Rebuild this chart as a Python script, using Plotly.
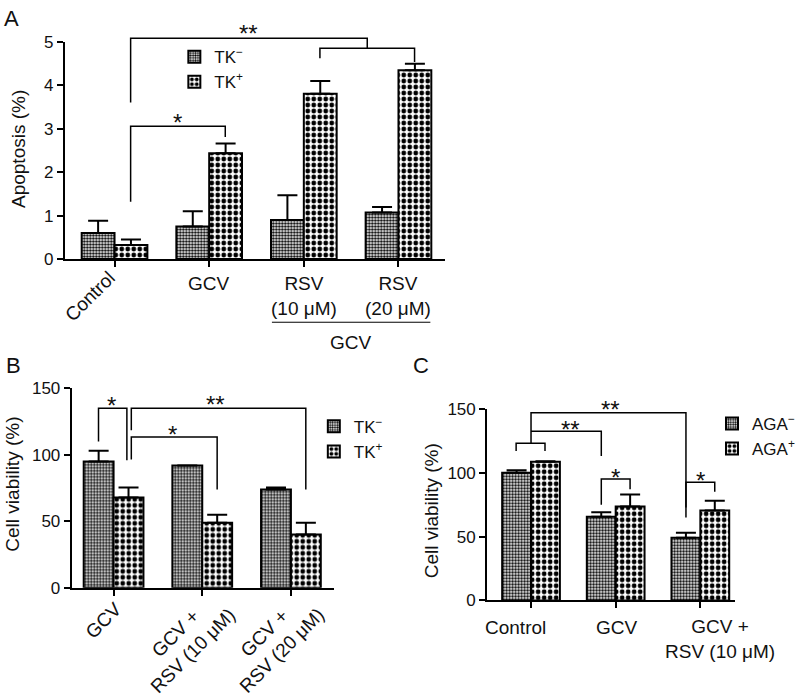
import plotly.graph_objects as go

W, H = 800, 698
FONT = "Liberation Sans, Arial, sans-serif"
TXT = "#111111"

# ---------------- data ----------------
# Panel A : apoptosis (%)
a_groups = ["Control", "GCV", "RSV<br>(10 μM)", "RSV<br>(20 μM)"]
a_neg = [0.60, 0.75, 0.90, 1.07]
a_neg_err = [0.28, 0.35, 0.57, 0.13]
a_pos = [0.32, 2.44, 3.81, 4.35]
a_pos_err = [0.13, 0.22, 0.29, 0.15]
a_yticks = [0, 1, 2, 3, 4, 5]

# Panel B : cell viability (%)
b_groups = ["GCV", "GCV +<br>RSV (10 μM)", "GCV +<br>RSV (20 μM)"]
b_neg = [95, 92, 74]
b_neg_err = [8, 0, 1.5]
b_pos = [68, 49, 40]
b_pos_err = [7.5, 6, 9]

# Panel C : cell viability (%)
c_groups = ["Control", "GCV", "GCV +<br>RSV (10 μM)"]
c_neg = [100, 65.5, 49]
c_neg_err = [2, 3.5, 4]
c_pos = [108.5, 73.5, 70.5]
c_pos_err = [0.5, 9.5, 7.5]
bc_yticks = [0, 50, 100, 150]

# ---------------- helpers ----------------
def px_x(px):
    return px / W

def px_y(py):
    return 1 - py / H

FINE = dict(shape=".", size=3, solidity=0.5, fgcolor="black", bgcolor="white", fillmode="replace")
COARSE = dict(shape=".", size=6, solidity=0.5, fgcolor="black", bgcolor="white", fillmode="replace")


def bars(groups, vals, errs, name, pattern, xa, ya, leg, w, left):
    return go.Bar(
        x=list(range(len(groups))), y=vals, name=name, xaxis=xa, yaxis=ya, legend=leg,
        width=w, offset=-w if left else 0,
        marker=dict(color="white", line=dict(color="black", width=2), pattern=pattern),
        error_y=dict(type="data", array=errs, arrayminus=[0] * len(errs), symmetric=False,
                     color="black", thickness=2, width=10),
        hoverinfo="skip",
    )


fig = go.Figure()
fig.add_trace(bars(a_groups, a_neg, a_neg_err, "TK<sup>−</sup>", FINE, "x", "y", "legend", 0.347, True))
fig.add_trace(bars(a_groups, a_pos, a_pos_err, "TK<sup>+</sup>", COARSE, "x", "y", "legend", 0.347, False))
fig.add_trace(bars(b_groups, b_neg, b_neg_err, "TK<sup>−</sup>", FINE, "x2", "y2", "legend2", 0.337, True))
fig.add_trace(bars(b_groups, b_pos, b_pos_err, "TK<sup>+</sup>", COARSE, "x2", "y2", "legend2", 0.337, False))
fig.add_trace(bars(c_groups, c_neg, c_neg_err, "AGA<sup>−</sup>", FINE, "x3", "y3", "legend3", 0.341, True))
fig.add_trace(bars(c_groups, c_pos, c_pos_err, "AGA<sup>+</sup>", COARSE, "x3", "y3", "legend3", 0.341, False))


def xax(dom, rng, n, anchor):
    return dict(domain=dom, range=rng, anchor=anchor, tickvals=list(range(n)), showticklabels=False,
                ticks="outside", ticklen=6, tickwidth=2, tickcolor="black",
                showline=True, linecolor="black", linewidth=2, showgrid=False, zeroline=False,
                fixedrange=True)


def yax(dom, rng, vals, anchor):
    return dict(domain=dom, range=rng, anchor=anchor, tickvals=vals,
                ticks="outside", ticklen=6, tickwidth=2, tickcolor="black",
                tickfont=dict(size=17, color=TXT, family=FONT),
                showline=True, linecolor="black", linewidth=2, showgrid=False, zeroline=False,
                fixedrange=True)


A_X = [px_x(65), px_x(447)]
A_Y = [px_y(257), px_y(34)]
B_X = [px_x(72), px_x(335)]
B_Y = [px_y(595), px_y(390)]
C_X = [px_x(489), px_x(738)]
C_Y = [px_y(608), px_y(411)]

LEGFONT = dict(size=17, color=TXT, family=FONT)
fig.update_layout(
    width=W, height=H, margin=dict(l=0, r=0, t=0, b=0), autosize=False,
    paper_bgcolor="white", plot_bgcolor="white", barmode="overlay",
    font=dict(family=FONT, size=18, color=TXT),
    xaxis=xax(A_X, [-0.526, 3.495], 4, "y"),
    yaxis=yax(A_Y, [0, 5], a_yticks, "x"),
    xaxis2=xax(B_X, [-0.472, 2.483], 3, "y2"),
    yaxis2=yax(B_Y, [0, 150], bc_yticks, "x2"),
    xaxis3=xax(C_X, [-0.518, 2.412], 3, "y3"),
    yaxis3=yax(C_Y, [0, 150], bc_yticks, "x3"),
    legend=dict(x=px_x(175), y=px_y(31), xanchor="left", yanchor="top", bgcolor="rgba(0,0,0,0)",
                font=LEGFONT),
    legend2=dict(x=px_x(315), y=px_y(411), xanchor="left", yanchor="top", bgcolor="rgba(0,0,0,0)",
                 font=LEGFONT),
    legend3=dict(x=px_x(715), y=px_y(408), xanchor="left", yanchor="top", bgcolor="rgba(0,0,0,0)",
                 font=LEGFONT),
)

shapes = []
ann = []


def bracket(pts, xr, yr, ymax):
    d = "M " + " L ".join(f"{x},{y / ymax}" for x, y in pts)
    shapes.append(dict(type="path", path=d, xref=xr, yref=yr + " domain",
                       line=dict(color="black", width=1.5)))


def star(x, y, t, xr, yr, ymax):
    ann.append(dict(x=x, y=y / ymax, text=t, xref=xr, yref=yr + " domain", showarrow=False,
                    xanchor="center", yanchor="middle", yshift=-5,
                    font=dict(size=24, color=TXT, family=FONT)))


# ---- Panel A brackets
bracket([(0.17, 1.32), (0.17, 3.06), (1.17, 3.06), (1.17, 2.81)], "x", "y", 5)
star(0.67, 3.26, "*", "x", "y", 5)
bracket([(0.17, 3.61), (0.17, 5.09), (2.67, 5.09), (2.67, 4.86)], "x", "y", 5)
bracket([(2.17, 4.63), (2.17, 4.86), (3.17, 4.86), (3.17, 4.54)], "x", "y", 5)
star(1.42, 5.32, "**", "x", "y", 5)

# ---- Panel B brackets
bracket([(-0.17, 110), (-0.17, 135), (0.15, 135), (0.15, 96)], "x2", "y2", 150)
star(-0.02, 141, "*", "x2", "y2", 150)
bracket([(0.2, 118.5), (0.2, 135), (2.168, 135), (2.168, 74)], "x2", "y2", 150)
star(1.15, 142, "**", "x2", "y2", 150)
bracket([(0.2, 96.6), (0.2, 113.4), (1.168, 113.4), (1.168, 74)], "x2", "y2", 150)
star(0.66, 119, "*", "x2", "y2", 150)

# ---- Panel C brackets
bracket([(-0.176, 117), (-0.176, 123), (0.165, 123), (0.165, 117)], "x3", "y3", 150)
bracket([(0, 123), (0, 147), (1.83, 147), (1.83, 72.7)], "x3", "y3", 150)
bracket([(0, 132.4), (0.83, 132.4), (0.83, 113)], "x3", "y3", 150)
star(0.47, 137.7, "**", "x3", "y3", 150)
star(0.94, 153, "**", "x3", "y3", 150)
bracket([(0.83, 75), (0.83, 95), (1.17, 95), (1.17, 87)], "x3", "y3", 150)
star(1.0, 100, "*", "x3", "y3", 150)
bracket([(1.83, 65), (1.83, 92.6), (2.17, 92.6), (2.17, 85)], "x3", "y3", 150)
star(2.0, 98, "*", "x3", "y3", 150)

# ---- Panel A x labels
lab = dict(showarrow=False, font=dict(size=19, color=TXT, family=FONT))
ann.append(dict(x=0, y=0, xref="x", yref="y", text=a_groups[0], textangle=-45,
                xanchor="center", yanchor="middle", xshift=-25, yshift=-37, **lab))
for i in range(1, 4):
    ann.append(dict(x=i, y=0, xref="x", yref="y", text=a_groups[i], xanchor="center", yanchor="top",
                    yshift=-12, align="center", **lab))
# GCV underline for RSV groups
shapes.append(dict(type="line", x0=1.663, x1=3.337, y0=-65 / 223, y1=-65 / 223, xref="x", yref="y domain",
                   line=dict(color="black", width=1)))
ann.append(dict(x=2.5, y=0, xref="x", yref="y", text="GCV", xanchor="center", yanchor="middle",
                yshift=-83, **lab))

# ---- Panel B x labels (rotated)
b_shift = [(-10, -33), (-18, -54), (-18, -54)]
for i, g in enumerate(b_groups):
    ann.append(dict(x=i, y=0, xref="x2", yref="y2", text=g, textangle=-45, align="center",
                    xanchor="center", yanchor="middle", xshift=b_shift[i][0], yshift=b_shift[i][1], **lab))

# ---- Panel C x labels
c_shift = [(-16, -27), (1, -27), (20, -38.5)]
for i, g in enumerate(c_groups):
    ann.append(dict(x=i, y=0, xref="x3", yref="y3", text=g, align="center",
                    xanchor="center", yanchor="middle", xshift=c_shift[i][0], yshift=c_shift[i][1], **lab))

# ---- axis titles
tl = dict(showarrow=False, xref="paper", yref="paper", textangle=-90, xanchor="center", yanchor="middle",
          font=dict(size=19, color=TXT, family=FONT))
ann.append(dict(x=px_x(18), y=px_y(144), text="Apoptosis (%)", **tl))
ann.append(dict(x=px_x(13), y=px_y(488), text="Cell viability (%)", **tl))
ann.append(dict(x=px_x(434), y=px_y(516), text="Cell viability (%)", **tl))

# ---- panel letters
pl = dict(showarrow=False, xref="paper", yref="paper", xanchor="center", yanchor="middle",
          font=dict(size=22, color=TXT, family=FONT))
ann.append(dict(x=px_x(12), y=px_y(10), text="A", **pl))
ann.append(dict(x=px_x(14), y=px_y(366), text="B", **pl))
ann.append(dict(x=px_x(423), y=px_y(366), text="C", **pl))

fig.update_layout(shapes=shapes, annotations=ann)
fig.write_html("out.html", config={"displayModeBar": False},
               post_script="document.body.style.margin='0px';")
